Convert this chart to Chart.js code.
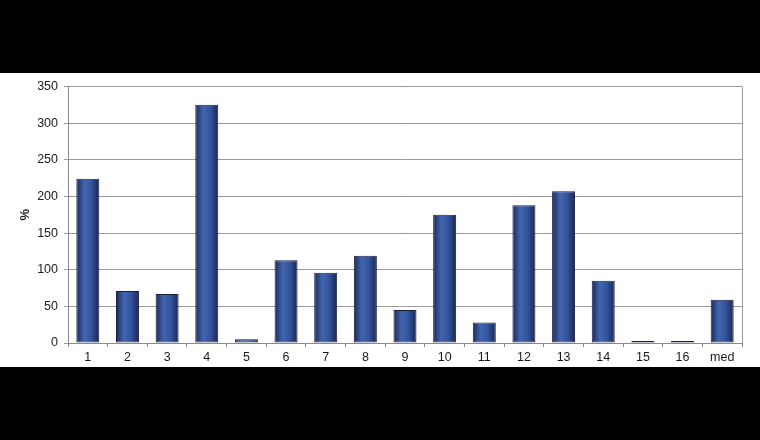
<!DOCTYPE html>
<html>
<head>
<meta charset="utf-8">
<script src="https://cdn.jsdelivr.net/npm/chart.js@4/dist/chart.umd.min.js"></script>
<style>
  html, body { margin: 0; padding: 0; background: #000; }
  #wrap { position: absolute; left: 0; top: 73px; width: 760px; height: 294px; background: #fff; }
  canvas { display: block; }
</style>
</head>
<body>
<div id="wrap"><canvas id="c" width="760" height="294"></canvas></div>
<script>
const categories = ['1','2','3','4','5','6','7','8','9','10','11','12','13','14','15','16','med'];
const values = [224, 71, 67, 325, 5, 113, 96, 119, 45, 175, 28, 188, 207, 85, 0.7, 0.7, 59];
const yTicks = [0, 50, 100, 150, 200, 250, 300, 350];
const axisTitle = '%';

const FONT = 'Liberation Sans, Arial, sans-serif';
const BAR_PCT = 0.58;

function barGradient(ctx) {
  const chart = ctx.chart;
  const xs = chart.scales && chart.scales.x;
  if (!chart.chartArea || !xs || ctx.dataIndex === undefined) return '#3a5ea6';
  const cx = xs.getPixelForValue(ctx.dataIndex);
  const w = (chart.chartArea.width / categories.length) * BAR_PCT;
  if (!isFinite(cx) || !isFinite(w)) return '#3a5ea6';
  const g = chart.ctx.createLinearGradient(cx - w / 2, 0, cx + w / 2, 0);
  g.addColorStop(0, '#1c2a5c');
  g.addColorStop(0.35, '#4166ae');
  g.addColorStop(0.65, '#34549c');
  g.addColorStop(1, '#1a2452');
  return g;
}

const rightBorder = {
  id: 'rightBorder',
  afterDraw(chart) {
    const {ctx, chartArea} = chart;
    ctx.save();
    ctx.strokeStyle = '#9a9a9a';
    ctx.lineWidth = 1;
    ctx.beginPath();
    ctx.moveTo(Math.round(chartArea.right) + 0.5, chartArea.top);
    ctx.lineTo(Math.round(chartArea.right) + 0.5, chartArea.bottom);
    ctx.stroke();
    ctx.restore();
  }
};

new Chart(document.getElementById('c'), {
  type: 'bar',
  data: {
    labels: categories,
    datasets: [{
      data: values,
      backgroundColor: barGradient,
      borderColor: '#1a1f42',
      borderWidth: 1,
      borderSkipped: false,
      minBarLength: 2,
      categoryPercentage: 1,
      barPercentage: BAR_PCT
    }]
  },
  options: {
    responsive: false,
    animation: false,
    layout: { padding: { top: 13, right: 18, left: 0, bottom: 0 } },
    plugins: { legend: { display: false }, tooltip: { enabled: false } },
    scales: {
      x: {
        offset: true,
        grid: { offset: true, drawOnChartArea: false, drawTicks: true, tickLength: 4, color: '#8a8a8a' },
        border: { display: true, color: '#8a8a8a' },
        ticks: { color: '#1a1a1a', font: { family: FONT, size: 12.5 }, padding: 3, maxRotation: 0, autoSkip: false },
        afterFit(scale) { scale.height = 24; }
      },
      y: {
        min: 0, max: 350,
        afterBuildTicks(scale) { scale.ticks = yTicks.map(v => ({ value: v })); },
        grid: { color: '#9a9a9a', tickLength: 4, drawTicks: true },
        border: { display: true, color: '#8a8a8a' },
        ticks: { color: '#1a1a1a', font: { family: FONT, size: 12.5 }, padding: 6 },
        title: { display: true, text: axisTitle, color: '#1a1a1a', font: { family: FONT, size: 13, weight: 'bold' }, padding: { top: 18, bottom: 0 } },
        afterFit(scale) { scale.width = 68; }
      }
    }
  },
  plugins: [rightBorder]
});
</script>
</body>
</html>
